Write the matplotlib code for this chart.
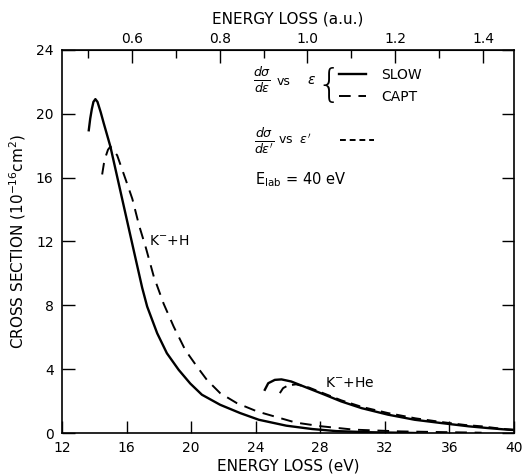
import matplotlib
matplotlib.use('Agg')
import matplotlib.pyplot as plt
from matplotlib.lines import Line2D

# K- + H : slow (solid) and capture (dashed)
h_slow_x = [13.66, 13.75, 13.85, 13.95, 14.07, 14.2, 14.4, 14.59, 15.0, 15.5, 16.0, 16.5, 16.97,
            17.28, 17.9, 18.5, 19.23, 19.95, 20.67, 21.8, 23.04, 24.2, 25.9, 27.5, 29.0, 31.0, 34.0]
h_slow_y = [18.97, 19.7, 20.3, 20.75, 20.92, 20.75, 20.1, 19.4, 17.95, 15.7, 13.45, 11.2, 9.1,
            7.92, 6.25, 5.0, 3.96, 3.1, 2.4, 1.77, 1.25, 0.83, 0.46, 0.25, 0.12, 0.05, 0.0]
h_capt_x = [14.49, 14.6, 14.7, 14.85, 15.0, 15.42, 15.94, 16.36, 16.78, 17.2, 17.69, 18.3, 18.92,
            19.64, 20.36, 20.98, 21.8, 22.83, 24.1, 25.5, 26.5, 28.08, 30.1, 33.0, 36.0, 38.0]
h_capt_y = [16.2, 16.9, 17.3, 17.75, 17.95, 17.4, 15.9, 14.67, 13.0, 11.6, 9.8, 8.1, 6.67,
            5.2, 4.17, 3.33, 2.5, 1.875, 1.35, 0.94, 0.65, 0.42, 0.21, 0.1, 0.05, 0.02]

# K- + He
he_slow_x = [24.57, 24.78, 25.19, 25.6, 26.2, 27.25, 28.28, 29.3, 30.56, 32.2, 33.86, 35.5,
             37.2, 38.4, 39.6, 40.0]
he_slow_y = [2.71, 3.12, 3.33, 3.36, 3.23, 2.81, 2.4, 1.98, 1.56, 1.15, 0.83, 0.625,
             0.42, 0.31, 0.21, 0.19]
he_capt_x = [25.5, 25.7, 26.0, 26.5, 27.3, 28.3, 29.3, 30.6, 32.2, 33.9, 35.5, 37.0, 38.0, 39.2, 40.0]
he_capt_y = [2.5, 2.81, 2.98, 3.05, 2.85, 2.45, 2.05, 1.63, 1.25, 0.92, 0.69, 0.5, 0.42, 0.27, 0.2]

x_ticks = [12, 16, 20, 24, 28, 32, 36, 40]
y_ticks = [0, 4, 8, 12, 16, 20, 24]
au_major = [0.6, 0.8, 1.0, 1.2, 1.4]
au_minor = [0.5, 0.7, 0.9, 1.1, 1.3]
au_labels = ['0.6', '0.8', '1.0', '1.2', '1.4']
EV_PER_AU = 27.211

fig = plt.figure(figsize=(5.23, 4.76), dpi=100)
ax = fig.add_axes([0.1185, 0.0903, 0.864, 0.8047])

ax.plot(h_slow_x, h_slow_y, color='black', lw=1.7)
ax.plot(h_capt_x, h_capt_y, color='black', lw=1.4, dashes=(6, 4))
ax.plot(he_slow_x, he_slow_y, color='black', lw=1.7)
ax.plot(he_capt_x, he_capt_y, color='black', lw=1.4, dashes=(5, 3))

ax.set_xlim(12, 40)
ax.set_ylim(0, 24)
ax.set_xticks(x_ticks)
ax.set_yticks(y_ticks)
ax.tick_params(direction='in', length=9, width=1, labelsize=10, right=True)
ax.tick_params(axis='x', pad=6)
ax.tick_params(axis='y', pad=6)
for s in ax.spines.values():
    s.set_linewidth(1.2)

ax.set_xlabel('ENERGY LOSS (eV)', fontsize=11, labelpad=2)
ax.set_ylabel(r'CROSS SECTION (10$^{-16}$cm$^2$)', fontsize=11, labelpad=6)

top = ax.secondary_xaxis('top', functions=(lambda x: x / EV_PER_AU, lambda a: a * EV_PER_AU))
top.set_xticks(au_major)
top.set_xticks(au_minor, minor=True)
top.set_xticklabels(au_labels)
top.tick_params(direction='in', length=9, width=1, labelsize=10, pad=3)
top.tick_params(which='minor', direction='in', length=6, width=1)
top.set_xlabel('ENERGY LOSS (a.u.)', fontsize=11, labelpad=6)

# curve labels
ax.text(17.4, 12.0, r'K$^{-}$+H', fontsize=10, va='center')
ax.text(28.3, 3.15, r'K$^{-}$+He', fontsize=10, va='center')

# key 1: d sigma / d eps vs eps { SLOW / CAPT
ax.text(24.4, 22.1, r'$\frac{d\sigma}{d\epsilon}$', fontsize=13, ha='center', va='center')
ax.text(25.3, 22.05, 'vs', fontsize=9, va='center')
ax.text(27.2, 22.1, r'$\epsilon$', fontsize=10, va='center')
ax.text(28.55, 21.75, '{', fontsize=28, va='center', ha='center', fontweight='light')

h1 = [Line2D([], [], color='black', lw=1.7), Line2D([], [], color='black', lw=1.4, dashes=(6, 4))]
leg1 = ax.legend(h1, ['SLOW', 'CAPT'], loc='center left', bbox_to_anchor=(0.612, 0.906),
                 frameon=False, fontsize=10, handlelength=2.0, handletextpad=1.1,
                 labelspacing=0.55, borderpad=0, borderaxespad=0)
ax.add_artist(leg1)

# key 2: d sigma / d eps' vs eps' ----
ax.text(24.55, 18.3, r"$\frac{d\sigma}{d\epsilon'}$", fontsize=13, ha='center', va='center')
h2 = [Line2D([], [], color='black', lw=1.4, dashes=(3, 2))]
ax.legend(h2, [r"vs  $\epsilon'$"], loc='center left', bbox_to_anchor=(0.478, 0.765),
          frameon=False, fontsize=9, markerfirst=False, handlelength=2.7,
          handletextpad=2.3, borderpad=0, borderaxespad=0)

ax.text(23.95, 15.85, r'E$_{\rm lab}$ = 40 eV', fontsize=10.5, va='center')

fig.savefig('out.png', dpi=100)
